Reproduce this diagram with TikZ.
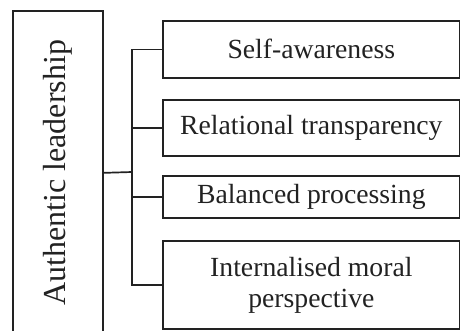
\documentclass[tikz,border=0pt]{standalone}
\usepackage{fontspec}
\setmainfont{Liberation Serif}
\definecolor{ink}{HTML}{222222}
\begin{document}
\begin{tikzpicture}[x=1pt,y=-1pt,
  box/.style={draw=ink,line width=1.7pt,rectangle,inner sep=0pt,anchor=north west,
    text=ink,align=center,font=\fontsize{27.7}{31}\selectfont},
  conn/.style={draw=ink,line width=1.7pt}]
\useasboundingbox (0,0) rectangle (460,330);
\node[box,minimum width=90pt,minimum height=324pt,font=\fontsize{32}{36}\selectfont] (L) at (12,10) {\rotatebox{90}{Authentic leadership}};
\node[box,minimum width=297pt,minimum height=57pt] (b1) at (162,20) {Self-awareness};
\node[box,minimum width=297pt,minimum height=56pt] (b2) at (162,99) {Relational transparency};
\node[box,minimum width=297pt,minimum height=42pt] (b3) at (162,175) {Balanced processing};
\node[box,minimum width=297pt,minimum height=88pt] (b4) at (162,240) {Internalised moral\\perspective};
\coordinate (J) at (132,172);
\draw[conn] (L.east) -- (J);
\draw[conn] (b1.west) -| (J) |- (b4.west);
\draw[conn] (J |- b2.west) -- (b2.west);
\draw[conn] (J |- b3.west) -- (b3.west);
\end{tikzpicture}
\end{document}
